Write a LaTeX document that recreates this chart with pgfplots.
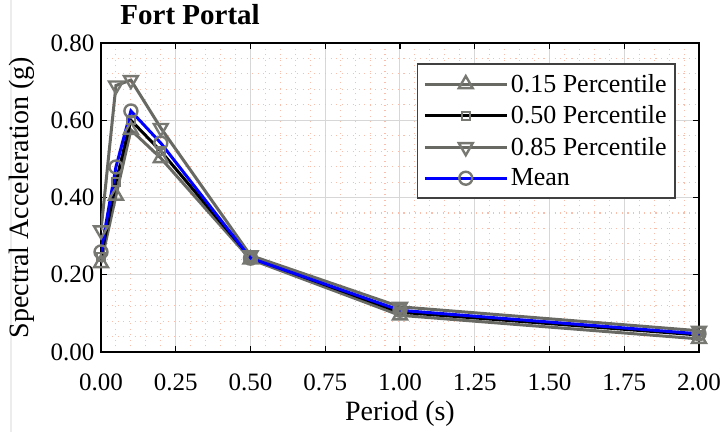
\documentclass[border=0pt]{standalone}
\usepackage{pgfplots}
\pgfplotsset{compat=1.18}
\usepackage{fontspec}
\setmainfont{Liberation Serif}
\definecolor{lgray}{RGB}{105,105,100}
\definecolor{mgray}{RGB}{120,120,115}
\definecolor{mgrid}{RGB}{250,190,172}
\definecolor{Mgrid}{RGB}{215,215,215}
\begin{document}
\begin{tikzpicture}
\useasboundingbox[fill=white] (-101pt,-80pt) rectangle (620pt,352pt);
\draw[gray!15,line width=1.5pt] (-90pt,-80pt) -- (-90pt,352pt);
\begin{axis}[
  at={(0,0)}, anchor=south west,
  scale only axis, width=598pt, height=309pt,
  xmin=0, xmax=2, ymin=0, ymax=0.8,
  xtick={0,0.25,...,2.01}, ytick={0,0.2,...,0.81},
  minor tick num=4, minor tick length=0pt,
  major tick length=6pt, tick style={black, line width=1.2pt},
  tick align=inside,
  grid=both,
  major grid style={Mgrid, line width=1pt},
  minor grid style={mgrid, line width=1.1pt, dash pattern=on 1.1pt off 4.5pt},
  axis line style={black, line width=2pt},
  /pgf/number format/assume math mode=true,
  /pgf/number format/.cd, fixed, fixed zerofill, precision=2, /pgfplots/.cd,
  ticklabel style={font=\fontsize{25}{28}\selectfont},
  xticklabel style={anchor=base, yshift=-38pt},
  yticklabel style={xshift=-3pt},
  xlabel={Period (s)}, ylabel={Spectral Acceleration (g)},
  label style={font=\fontsize{28}{32}\selectfont},
  xlabel style={yshift=-4pt},
  ylabel style={at={(axis description cs:-0.132,0.5)}, anchor=center},
  title={\textbf{Fort Portal}},
  title style={font=\fontsize{29}{32}\selectfont, anchor=base, at={(axis description cs:0.149,1.042)}},
  legend style={at={(0.9615,0.935)}, anchor=north east, draw=black!75, line width=1.5pt,
    font=\fontsize{26}{29}\selectfont, row sep=7pt, inner xsep=6pt, inner ysep=8pt,
    nodes={inner sep=2.5pt}},
  legend cell align=left,
  legend image code/.code={\draw[mark repeat=2,mark phase=2] plot coordinates {(0pt,0pt) (41pt,0pt) (82pt,0pt)};},
]
\addplot[lgray, line width=3pt, mark=triangle, mark size=8pt,
  mark options={draw=mgray, fill=white, line width=2.4pt, solid}]
  coordinates {(0,0.23) (0.05,0.405) (0.1,0.575) (0.2,0.502) (0.5,0.24) (1,0.095) (2,0.034)};
\addlegendentry{0.15 Percentile}
\addplot[black, line width=3pt, mark=square, mark size=4pt,
  mark options={draw=mgray, fill=white, line width=2pt, solid}]
  coordinates {(0,0.245) (0.05,0.44) (0.1,0.60) (0.2,0.52) (0.5,0.245) (1,0.103) (2,0.044)};
\addlegendentry{0.50 Percentile}
\addplot[lgray, line width=3pt, mark=triangle, mark size=8pt,
  mark options={draw=mgray, fill=white, line width=2.4pt, solid, rotate=180}]
  coordinates {(0,0.315) (0.05,0.69) (0.1,0.704) (0.2,0.58) (0.5,0.25) (1,0.117) (2,0.055)};
\addlegendentry{0.85 Percentile}
\addplot[blue, line width=3pt, mark=o, mark size=6.5pt,
  mark options={draw=mgray, fill=white, line width=2.4pt, solid}]
  coordinates {(0,0.259) (0.05,0.479) (0.1,0.624) (0.2,0.541) (0.5,0.243) (1,0.108) (2,0.047)};
\addlegendentry{Mean}
\end{axis}
\end{tikzpicture}
\end{document}
